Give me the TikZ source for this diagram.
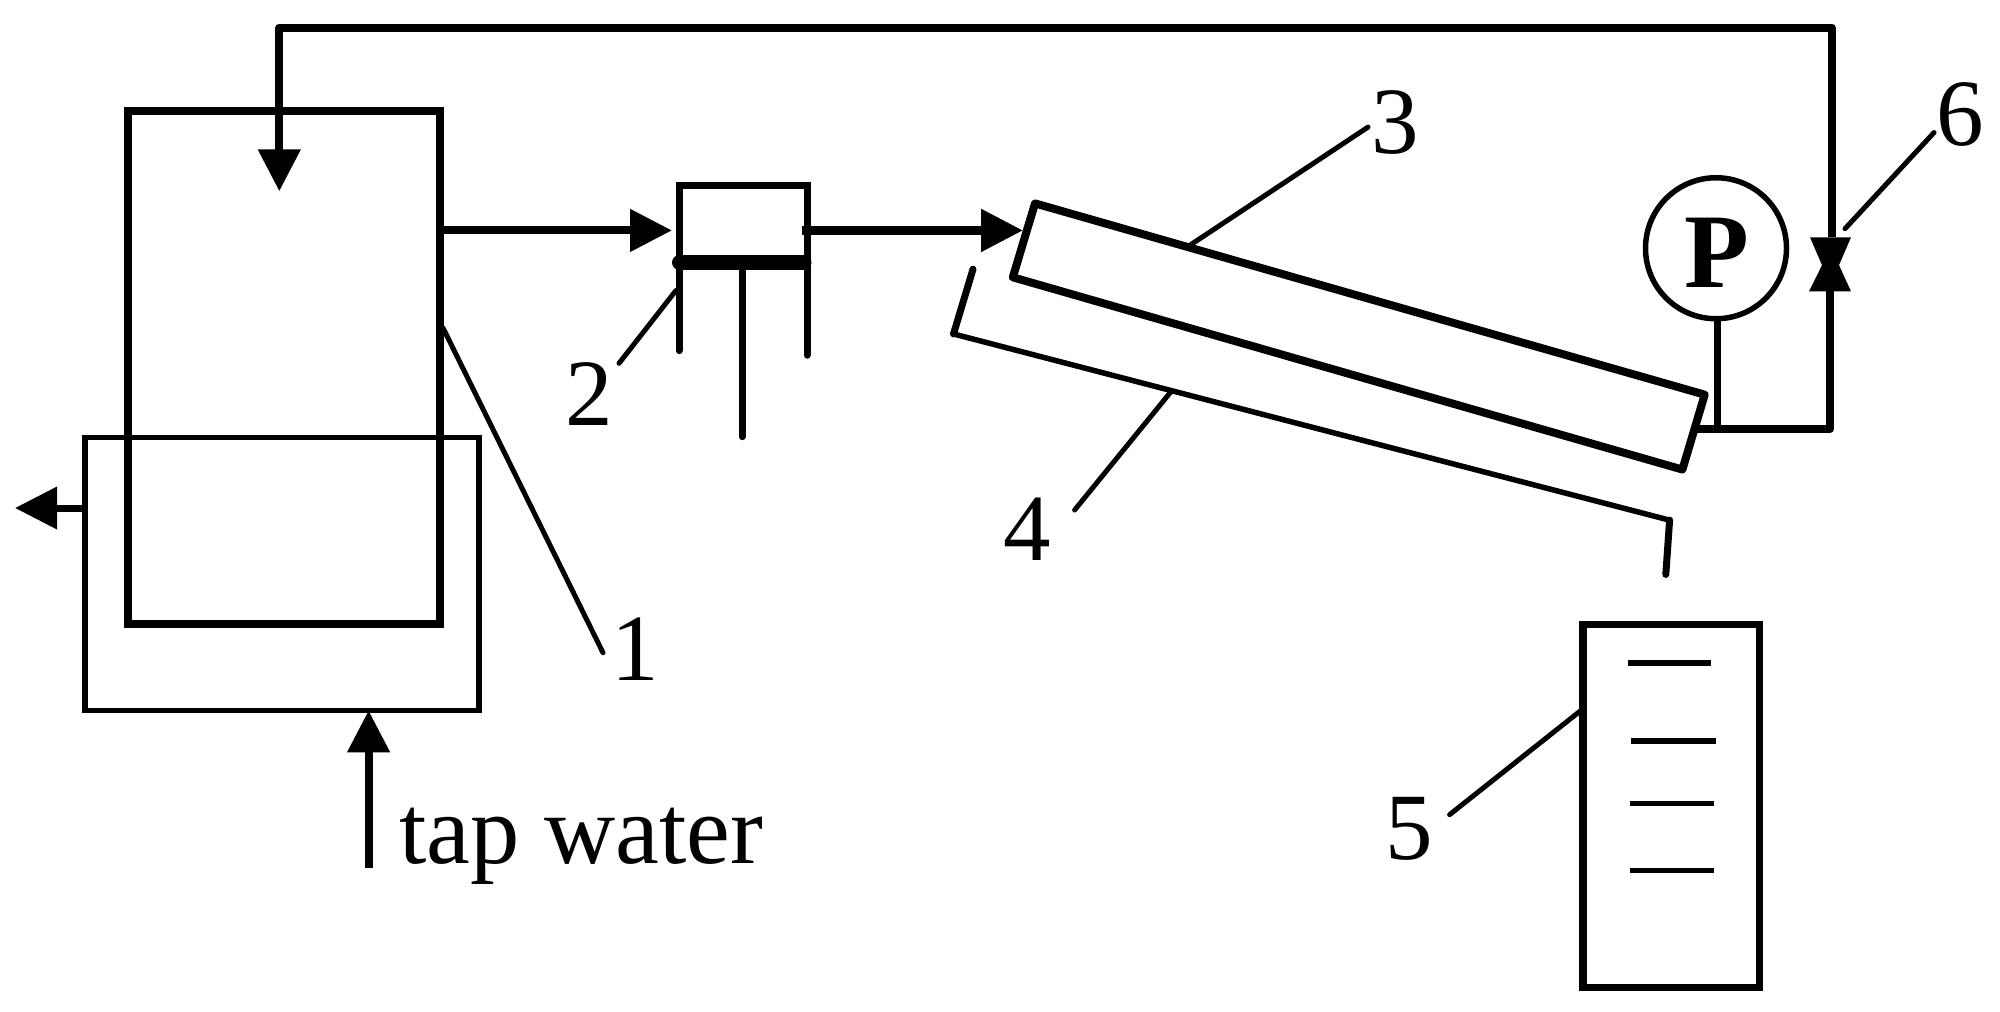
\documentclass[tikz,border=0pt]{standalone}
\usepackage{fontspec}
\setmainfont{Liberation Serif}
\usetikzlibrary{arrows.meta}
\tikzset{
  vessel/.style={draw,line width=#1,inner sep=0pt,outer sep=0pt,fill=none},
  pipe/.style={line width=8pt},
  thinpipe/.style={line width=8.5pt},
  leader/.style={line width=5pt,line cap=round},
  flow/.style={-{Triangle[length=42pt,width=41pt]}},
  num/.style={inner sep=0pt,outer sep=0pt,font=\fontsize{95}{95}\selectfont},
  tick/.style={line width=5.5pt},
}
\begin{document}
\begin{tikzpicture}[x=1pt,y=-1.012pt]
\useasboundingbox[fill=white] (0,0) rectangle (2000,1000);
% vessels
\node[vessel=8pt,minimum width=312pt,minimum height=513pt] (tank) at (283.5,363.5) {};
\node[vessel=5.5pt,minimum width=394pt,minimum height=273pt] (jacket) at (282,567) {};
\node[vessel=7.5pt,minimum width=176.5pt,minimum height=363pt] (cyl) at (1671,796.5) {};
\node[vessel=5.5pt,circle,minimum size=141pt] (gauge) at (1716,245.3) {};
\node[inner sep=0pt,font=\fontsize{106}{106}\selectfont\bfseries] (pl) at (1717,250) {P};
% named points
\coordinate (retA) at (279.3,27.4);
\coordinate (retB) at (1831.7,27.4);
\coordinate (retTip) at (279.3,189);
\coordinate (tout) at (tank.east |- 0,227.7);
\coordinate (bTL) at (679,183);
\coordinate (bTR) at (807,183);
\coordinate (bML) at (679.5,259.4);
\coordinate (bMR) at (804,259.4);
\coordinate (bIn) at (672,227.7);
\coordinate (bOut) at (802,227.7);
\coordinate (lL) at (679,346.5);
\coordinate (lR) at (807,351);
\coordinate (mT) at (742,259.4);
\coordinate (mB) at (742,431.5);
\coordinate (tubeIn) at (1023,227.7);
\coordinate (t1) at (1035,201);
\coordinate (t2) at (1704.7,390);
\coordinate (t3) at (1682.4,464);
\coordinate (t4) at (1012.8,274);
\coordinate (g1) at (973,266);
\coordinate (g2) at (953.5,330);
\coordinate (g3) at (1669.6,514);
\coordinate (g4) at (1665.8,567.6);
\coordinate (oA) at (1695,424);
\coordinate (oB) at (1829.7,424);
\coordinate (vT) at (1831.7,234.5);
\coordinate (vB) at (1829.7,288);
% return line
\draw[pipe,line join=round] (oA) -- (oB) -- (vB);
\draw[pipe,line join=round,flow] (vT) -- (retB) -- (retA) -- (retTip);
% valve
\fill (1810,234.5) -- (1851,234.5) -- (1839,262) -- (1851,288) -- (1809,288) -- (1822,262) -- cycle;
% tank to filter
\draw[pipe,flow] (tout) -- (bIn);
\draw[thinpipe,flow] (bOut) -- (tubeIn);
% filter box
\draw[line width=7pt,line cap=round] (lL) -- (bTL) -- (bTR) -- (lR);
\draw[line width=15pt,line cap=round] (bML) -- (bMR);
\draw[line width=7pt,line cap=round] (mT) -- (mB);
% tube and gutter
\draw[line width=8pt,line join=round] (t1) -- (t2) -- (t3) -- (t4) -- cycle;
\draw[line width=7pt,line cap=round] (g1) -- (g2) (g3) -- (g4);
\draw[line width=5.5pt,line cap=round] (g2) -- (g3);
% gauge stem
\draw[line width=6.5pt] (gauge.south) ++(1.3,0) -- ++(0,105);
% jacket connectors
\coordinate (jOut) at (jacket.west |- 0,502);
\coordinate (jOutTip) at (15,502);
\draw[line width=7pt,flow] (jOut) -- (jOutTip);
\coordinate (jIn) at (368.6,702);
\coordinate (jInB) at (368.6,858);
\draw[line width=8pt,flow] (jInB) -- (jIn);
\node[anchor=base west,inner sep=0pt,font=\fontsize{98.5}{98.5}\selectfont] (tap) at (399,853) {tap water};
% cylinder ticks
\coordinate (c1a) at (1628,655); \coordinate (c1b) at (1711,655);
\coordinate (c2a) at (1631,732); \coordinate (c2b) at (1716,732);
\coordinate (c3a) at (1630,794); \coordinate (c3b) at (1714,794);
\coordinate (c4a) at (1630,860); \coordinate (c4b) at (1714,860);
\draw[tick] (c1a) -- (c1b) (c2a) -- (c2b) (c3a) -- (c3b) (c4a) -- (c4b);
% number labels
\node[num] (n1) at (635,641) {1};
\node[num] (n2) at (589,389) {2};
\node[num] (n3) at (1395,121) {3};
\node[num] (n4) at (1027,523) {4};
\node[num] (n5) at (1409,819) {5};
\node[num] (n6) at (1960,113.5) {6};
% leaders
\coordinate (l1a) at (443,324); \coordinate (l1b) at (603,645);
\coordinate (l2a) at (676,287); \coordinate (l2b) at (619,359);
\coordinate (l3a) at (1188,243.6); \coordinate (l3b) at (1368,125.6);
\coordinate (l4a) at (1171,387); \coordinate (l4b) at (1074.6,504);
\coordinate (l5a) at (1581.6,701.5); \coordinate (l5b) at (1449.6,805);
\coordinate (l6a) at (1845,226); \coordinate (l6b) at (1934,131);
\draw[leader] (l1a) -- (l1b) (l2a) -- (l2b) (l3a) -- (l3b) (l4a) -- (l4b) (l5a) -- (l5b) (l6a) -- (l6b);
\end{tikzpicture}
\end{document}
